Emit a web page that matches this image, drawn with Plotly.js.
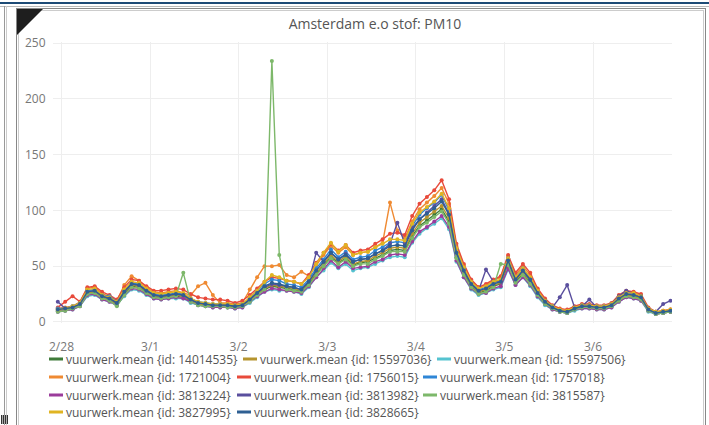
<!DOCTYPE html>
<html><head><meta charset="utf-8">
<script src="https://cdn.plot.ly/plotly-3.0.1.min.js"></script>
<style>
html,body{margin:0;padding:0;background:#fff;overflow:hidden;width:709px;height:425px}
#chart{position:absolute;left:0;top:0;width:709px;height:425px}
.f{position:absolute;pointer-events:none}
#chart .legendpoints{display:none}
#chart .legendlines path{d:path('M23,0h14');stroke-width:3px !important}
</style></head><body>
<div id="chart"></div>
<div class="f" style="left:0;top:2px;width:709px;height:2px;background:#1d4b76"></div>
<div class="f" style="left:0;top:6px;width:709px;height:1px;background:#bbb"></div>
<div class="f" style="left:4px;top:6px;width:1px;height:419px;background:#999"></div>
<div class="f" style="left:6px;top:6px;width:1px;height:419px;background:#ccc"></div>
<div class="f" style="left:16px;top:8px;width:690px;height:1px;background:#888"></div>
<div class="f" style="left:16px;top:8px;width:1px;height:417px;background:#888"></div>
<div class="f" style="left:18px;top:10px;width:1px;height:415px;background:#ccc"></div>
<div class="f" style="left:18px;top:10px;width:686px;height:1px;background:#ccc"></div>
<div class="f" style="left:705px;top:8px;width:1px;height:417px;background:#888"></div>
<div class="f" style="left:703px;top:10px;width:1px;height:415px;background:#ccc"></div>
<svg class="f" style="left:17px;top:9px" width="28" height="28"><polygon points="0,0 26,0 0,26" fill="#1e1e1e"/></svg>
<div class="f" style="left:1px;top:415px;width:7px;height:9px;background:repeating-linear-gradient(90deg,#333 0 1px,#aaa 1px 2px)"></div>
<script>
// Sampling: one point every 2 hours, starting 2018-02-27 23:00
const startTime = Date.UTC(2018, 1, 27, 23, 0);
const stepHours = 2;

const seriesIds = ['14014535','15597036','15597506','1721004','1756015','1757018','3813224','3813982','3815587','3827995','3828665'];

const s14014535 = [10,11,12,15,25,27,22,20,16,25, 32,31,26,22,22,22,23,22,19,16, 15,14,14,14,13,14,19,24,29,32, 31,30,29,27,34,43,51,58,53,57, 51,53,54,57,60,64,65,64,77,86, 91,96,101,90,58,43,32,26,28,32, 34,52,36,43,35,24,17,12,9,8, 11,13,13,12,12,14,20,24,23,21, 10,7,8,9];
const s15597036 = [10,11,12,15,26,27,22,20,16,26, 33,32,27,23,22,23,24,23,19,16, 15,14,14,14,13,14,19,25,30,33, 32,31,30,28,35,44,52,60,54,59, 52,54,55,59,62,66,67,66,79,89, 94,99,104,93,60,45,33,27,29,33, 35,53,37,45,36,25,17,12,10,9, 12,13,13,12,12,14,20,24,23,21, 10,7,8,9];
const s15597506 = [9,10,11,14,23,24,20,18,15,23, 29,28,24,21,20,21,21,21,17,15, 14,13,13,13,12,13,17,22,27,29, 28,28,27,25,31,40,46,53,48,52, 46,48,49,52,55,58,59,58,71,79, 84,88,93,83,54,40,29,24,26,29, 31,47,33,40,32,22,15,11,9,8, 10,12,12,11,11,13,18,22,21,19, 9,7,8,9];
const s1721004 = [12,13,14,18,30,31,25,23,19,33, 41,37,31,27,26,27,28,26,24,32, 35,24,17,17,16,17,29,40,50,50, 51,42,40,45,41,51,60,68,62,67, 60,62,63,67,71,107,82,75,90,101, 107,113,120,106,68,51,37,31,33,37, 40,59,42,50,42,29,20,14,11,10, 13,15,15,14,14,16,23,27,26,24, 12,9,10,11];
const s1756015 = [13,18,23,18,31,32,27,24,20,31, 38,37,32,28,28,29,30,29,25,22, 21,20,20,19,17,19,24,30,36,40, 39,37,36,34,42,53,62,70,64,69, 62,64,65,70,74,79,80,78,95,106, 112,118,127,110,70,52,38,31,34,38, 41,60,44,52,44,30,21,15,12,11, 14,16,16,15,15,17,24,28,27,25, 13,9,10,11];
const s1757018 = [12,12,14,17,28,29,24,23,18,28, 35,34,29,25,24,25,26,25,21,18, 17,16,16,15,15,16,21,28,34,38, 37,34,33,31,38,48,56,65,58,63, 56,58,59,64,67,71,72,71,86,96, 102,107,114,100,65,48,35,29,31,35, 37,57,40,48,39,27,19,14,10,9, 12,15,15,14,14,16,22,26,25,23, 11,8,9,10];
const s3813224 = [9,10,11,14,24,25,20,18,15,24, 30,29,25,21,20,21,22,21,18,15, 14,13,13,13,12,13,18,23,27,30, 29,28,27,26,32,40,48,55,49,54, 48,49,50,54,56,60,61,60,72,81, 85,90,95,85,55,40,30,25,26,30, 32,48,33,40,33,23,16,11,9,8, 11,12,12,11,11,13,18,22,21,19, 10,7,8,9];
const s3813982 = [18,12,13,16,27,28,23,21,17,27, 34,33,28,24,23,24,25,24,20,17, 16,15,15,15,14,15,20,26,31,34, 33,32,31,29,36,62,54,62,56,61, 54,56,57,61,64,70,89,70,84,92, 98,104,110,97,62,46,34,28,47,36, 37,55,38,46,37,26,18,13,22,33, 13,14,20,13,13,16,23,28,25,23, 12,9,16,19];
const s3815587 = [9,10,12,14,25,26,21,19,14,24, 31,30,26,22,21,22,23,44,18,15, 14,14,14,13,13,14,18,24,29,234, 60,29,28,27,33,42,50,57,52,56, 50,52,52,56,59,63,63,63,75,85, 89,94,99,88,57,42,31,25,27,31, 52,51,35,42,34,24,16,12,9,8, 11,13,13,12,12,14,19,23,22,20, 10,7,8,9];
const s3827995 = [11,12,14,17,29,30,24,22,18,29, 36,35,30,26,25,26,27,26,21,18, 17,16,16,16,15,16,22,28,36,42, 40,37,36,34,40,52,62,71,63,69, 60,62,63,67,70,74,74,73,88,98, 103,108,115,102,66,49,36,30,32,36, 38,57,40,48,40,28,19,14,11,10, 13,15,15,14,14,16,22,26,26,23, 12,9,10,11];
const s3828665 = [11,12,13,16,27,28,23,21,17,27, 34,33,28,24,23,24,25,24,20,17, 16,15,15,15,14,15,20,26,32,35, 34,32,31,29,36,46,54,62,56,60, 54,56,57,61,64,68,69,68,82,92, 97,102,108,96,62,46,34,28,30,34, 36,55,38,46,38,26,18,13,10,9, 12,14,14,13,13,15,21,25,24,22, 11,8,9,10];

const seriesValues = [s14014535,s15597036,s15597506,s1721004,s1756015,s1757018,s3813224,s3813982,s3815587,s3827995,s3828665];
const seriesColors = ['#3e7b3a','#b5942e','#55c3d0','#ef8a32','#e84a3b','#2f86d6','#9b3c9b','#5a4f9e','#7db86a','#e0b422','#2e5f92'];

function pad(n){return (n<10?'0':'')+n;}
const times = s14014535.map((_, i) => {
  const d = new Date(startTime + i * stepHours * 3600000);
  return d.getUTCFullYear()+'-'+pad(d.getUTCMonth()+1)+'-'+pad(d.getUTCDate())+' '+pad(d.getUTCHours())+':00';
});

// legend item placement (paper coords), one legend per entry
const legX = [-0.0436,0.2698,0.5832, -0.0436,0.2601,0.5606, -0.0436,0.2601,0.5606, -0.0436,0.2601];
const legY = [-0.1281,-0.1281,-0.1281, -0.1922,-0.1922,-0.1922, -0.2562,-0.2562,-0.2562, -0.3167,-0.3167];

const traces = seriesIds.map((id, k) => ({
  type: 'scatter', mode: 'lines+markers',
  name: 'vuurwerk.mean {id: ' + id + '}',
  x: times, y: seriesValues[k],
  line: {color: seriesColors[k], width: 1.4},
  marker: {color: seriesColors[k], size: 4},
  legend: k === 0 ? 'legend' : 'legend' + (k + 1)
}));

const layout = {
  width: 709, height: 425,
  margin: {l: 53, r: 37, t: 42, b: 102, autoexpand: false},
  paper_bgcolor: 'rgba(0,0,0,0)', plot_bgcolor: 'rgba(0,0,0,0)',
  font: {family: 'Open Sans, sans-serif', size: 12, color: '#777'},
  title: {text: 'Amsterdam e.o stof: PM10', x: 375/709, xref: 'container', xanchor: 'center',
          y: 1 - 24/425, yref: 'container', yanchor: 'middle',
          font: {family: 'Open Sans, sans-serif', size: 14, color: '#555'}},
  xaxis: {type: 'date', range: ['2018-02-27 21:42', '2018-03-06 21:24'],
          dtick: 86400000, tick0: '2018-02-28', tickformat: '%-m/%-d',
          showgrid: true, gridcolor: '#eeeeee', zeroline: false, showline: false,
          ticks: 'outside', ticklen: 13, tickcolor: 'rgba(0,0,0,0)', automargin: false},
  yaxis: {range: [-1, 251], dtick: 50, showgrid: true, gridcolor: '#eeeeee',
          zeroline: false, showline: false,
          ticks: 'outside', ticklen: 4, tickcolor: 'rgba(0,0,0,0)', automargin: false},
  showlegend: true,
  hovermode: false
};
seriesIds.forEach((id, k) => {
  const key = k === 0 ? 'legend' : 'legend' + (k + 1);
  layout[key] = {x: legX[k], y: legY[k], xanchor: 'left', yanchor: 'middle',
    orientation: 'h', bgcolor: 'rgba(0,0,0,0)',
    font: {family: 'Open Sans, sans-serif', size: 12, color: '#555'}};
});

function shortSwatches() {
  document.querySelectorAll('#chart .legendlines path').forEach(p => {
    p.setAttribute('d', 'M23,0h14');
    p.style.strokeWidth = '3px';
  });
  document.querySelectorAll('#chart .legendpoints').forEach(p => p.style.display = 'none');
}
Plotly.newPlot('chart', traces, layout, {displayModeBar: false, staticPlot: true}).then(gd => {
  shortSwatches();
  gd.on('plotly_afterplot', shortSwatches);
  setTimeout(shortSwatches, 50);
  setTimeout(shortSwatches, 300);
});
</script>
</body></html>
